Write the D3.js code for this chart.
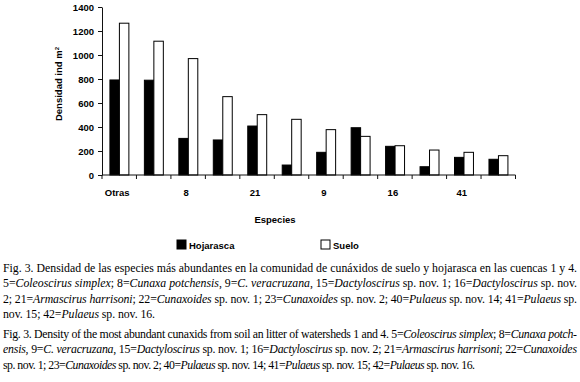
<!DOCTYPE html>
<html>
<head>
<meta charset="utf-8">
<script src="https://cdn.jsdelivr.net/npm/d3@7"></script>
<style>
body { margin: 0; background: #fff; }
.axis text { font-family: "Liberation Sans", Arial, sans-serif; font-size: 9.5px; font-weight: bold; fill: #000; }
</style>
</head>
<body>
<div id="chart"></div>
<script>
// datos
var especies = ["Otras", "5", "8", "15", "21", "22", "9", "23", "16", "40", "41", "42"];
var etiquetas = ["Otras", "8", "21", "9", "16", "41"];
var hojarasca = [792, 790, 305, 292, 408, 83, 189, 394, 239, 69, 147, 131];
var suelo = [1265, 1115, 970, 653, 503, 464, 378, 322, 244, 208, 189, 161];
var series = ["Hojarasca", "Suelo"];
var yTicks = [0, 200, 400, 600, 800, 1000, 1200, 1400];

var captionEs = [
  [["Fig. 3. Densidad de las especies más abundantes en la comunidad de cunáxidos de suelo y hojarasca en las cuencas 1 y 4.", 0]],
  [["5=", 0], ["Coleoscirus simplex", 1], ["; 8=", 0], ["Cunaxa potchensis", 1], [", 9=", 0], ["C. veracruzana", 1], [", 15=", 0], ["Dactyloscirus", 1], [" sp. nov. 1; 16=", 0], ["Dactyloscirus", 1], [" sp. nov.", 0]],
  [["2; 21=", 0], ["Armascirus harrisoni", 1], ["; 22=", 0], ["Cunaxoides", 1], [" sp. nov. 1; 23=", 0], ["Cunaxoides", 1], [" sp. nov. 2; 40=", 0], ["Pulaeus", 1], [" sp. nov. 14; 41=", 0], ["Pulaeus", 1], [" sp.", 0]],
  [["nov. 15; 42=", 0], ["Pulaeus", 1], [" sp. nov. 16.", 0]]
];
var captionEn = [
  [["Fig. 3. Density of the most abundant cunaxids from soil an litter of watersheds 1 and 4. 5=", 0], ["Coleoscirus simplex", 1], ["; 8=", 0], ["Cunaxa potch-", 1]],
  [["ensis", 1], [", 9=", 0], ["C. veracruzana", 1], [", 15=", 0], ["Dactyloscirus", 1], [" sp. nov. 1; 16=", 0], ["Dactyloscirus", 1], [" sp. nov. 2; 21=", 0], ["Armascirus harrisoni", 1], ["; 22=", 0], ["Cunaxoides", 1]],
  [["sp. nov. 1; 23=", 0], ["Cunaxoides", 1], [" sp. nov. 2; 40=", 0], ["Pulaeus", 1], [" sp. nov. 14; 41=", 0], ["Pulaeus", 1], [" sp. nov. 15; 42=", 0], ["Pulaeus", 1], [" sp. nov. 16.", 0]]
];

var W = 580, H = 382;
var plotLeft = 102, plotRight = 515.5, plotTop = 7, plotBottom = 175;

var svg = d3.select("#chart").append("svg")
  .attr("width", W)
  .attr("height", H);

var x0 = d3.scaleBand()
  .domain(especies)
  .range([plotLeft, plotRight])
  .padding(0);

var bw = x0.bandwidth();
var x1 = d3.scaleBand()
  .domain(series)
  .range([bw * 0.23, bw * 0.78])
  .padding(0);

var y = d3.scaleLinear()
  .domain([0, 1400])
  .range([plotBottom, plotTop]);

var data = especies.map(function(e, i) {
  return {especie: e, valores: [{s: "Hojarasca", v: hojarasca[i]}, {s: "Suelo", v: suelo[i]}]};
});

// barras
var grupos = svg.selectAll(".grupo")
  .data(data)
  .enter().append("g")
  .attr("class", "grupo")
  .attr("transform", function(d) { return "translate(" + x0(d.especie) + ",0)"; });

grupos.selectAll("rect")
  .data(function(d) { return d.valores; })
  .enter().append("rect")
  .attr("x", function(d) { return x1(d.s); })
  .attr("y", function(d) { return y(d.v); })
  .attr("width", x1.bandwidth())
  .attr("height", function(d) { return y(0) - y(d.v); })
  .attr("fill", function(d) { return d.s == "Hojarasca" ? "#000" : "#fff"; })
  .attr("stroke", "#000")
  .attr("stroke-width", 1);

// eje y
var yAxis = d3.axisLeft(y)
  .tickValues(yTicks)
  .tickFormat(d3.format("d"))
  .tickSize(4)
  .tickSizeOuter(0)
  .tickPadding(4);

var gy = svg.append("g")
  .attr("class", "axis")
  .attr("transform", "translate(" + plotLeft + ",0)")
  .call(yAxis);
gy.selectAll("line, path").attr("stroke", "#111");

// eje x: lineas de separacion entre categorias
var gx = svg.append("g").attr("class", "axis");
gx.append("line")
  .attr("x1", plotLeft).attr("x2", plotRight)
  .attr("y1", y(0)).attr("y2", y(0))
  .attr("stroke", "#111");
var bordes = especies.map(function(e) { return x0(e); }).concat([x0.range()[1]]);
gx.selectAll(".sep")
  .data(bordes)
  .enter().append("line")
  .attr("class", "sep")
  .attr("x1", function(d) { return d; })
  .attr("x2", function(d) { return d; })
  .attr("y1", y(0))
  .attr("y2", y(0) + 4)
  .attr("stroke", "#111");

gx.selectAll(".lab")
  .data(etiquetas)
  .enter().append("text")
  .attr("class", "lab")
  .attr("x", function(d) { return x0(d) + bw / 2 - 2; })
  .attr("y", 195.5)
  .attr("text-anchor", "middle")
  .text(function(d) { return d; });

// titulos de ejes
var yl = svg.append("text")
  .attr("transform", "translate(62,84) rotate(-90)")
  .attr("text-anchor", "middle")
  .style("font-family", "Liberation Sans, Arial, sans-serif")
  .style("font-size", "9.5px")
  .style("font-weight", "bold");
yl.append("tspan").text("Densidad ind m");
yl.append("tspan").attr("dy", -3).style("font-size", "6px").text("2");

svg.append("text")
  .attr("x", 275)
  .attr("y", 223)
  .attr("text-anchor", "middle")
  .style("font-family", "Liberation Sans, Arial, sans-serif")
  .style("font-size", "9.5px")
  .style("font-weight", "bold")
  .text("Especies");

// leyenda
var ley = svg.selectAll(".ley")
  .data(series)
  .enter().append("g")
  .attr("class", "ley")
  .attr("transform", function(d, i) { return "translate(" + (i == 0 ? 177 : 321) + ",240)"; });
ley.append("rect")
  .attr("width", 9).attr("height", 9)
  .attr("fill", function(d) { return d == "Hojarasca" ? "#000" : "#fff"; })
  .attr("stroke", "#000");
ley.append("text")
  .attr("x", 12)
  .attr("y", 9)
  .style("font-family", "Liberation Sans, Arial, sans-serif")
  .style("font-size", "9.5px")
  .style("font-weight", "bold")
  .text(function(d) { return d; });

// pie de figura
function caption(lines, y0, lastWidth) {
  lines.forEach(function(line, i) {
    var t = svg.append("text")
      .attr("x", 3)
      .attr("y", y0 + i * 15.3)
      .attr("textLength", i == lines.length - 1 ? lastWidth : 574)
      .attr("lengthAdjust", "spacing")
      .style("font-family", "Liberation Serif, Times New Roman, serif")
      .style("font-size", "11.8px")
      .style("white-space", "pre");
    line.forEach(function(p) {
      t.append("tspan")
        .style("font-style", p[1] ? "italic" : "normal")
        .text(p[0]);
    });
  });
}
caption(captionEs, 272, 152);
caption(captionEn, 338, 472);
</script>
</body>
</html>
